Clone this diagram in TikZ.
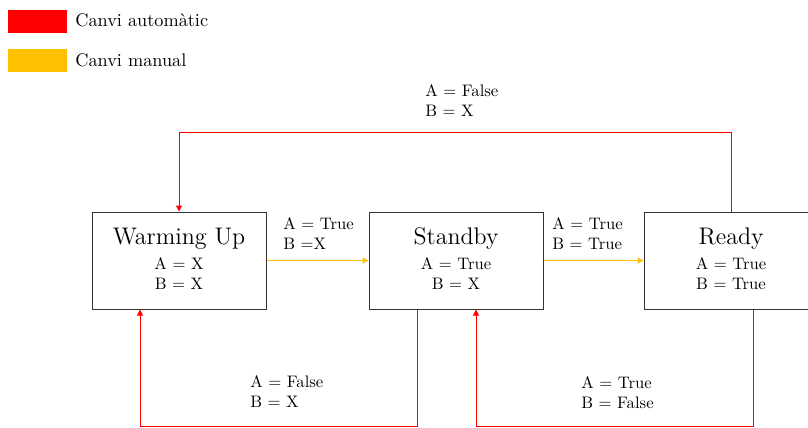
\documentclass[tikz,border=0pt]{standalone}
\usetikzlibrary{arrows.meta}
\definecolor{autored}{RGB}{255,0,0}
\definecolor{manyellow}{RGB}{255,192,0}
\begin{document}
\begin{tikzpicture}[x=0.6pt,y=-0.6pt,
  statebox/.style={draw=black!80,line width=0.6pt,minimum width=174*0.6pt,minimum height=97*0.6pt,inner sep=0pt},
  title/.style={font=\Large,inner sep=0pt},
  vals/.style={align=center,inner sep=0pt},
  lbl/.style={align=left,anchor=west,inner sep=0pt},
  legtxt/.style={anchor=west,inner sep=0pt,font=\fontsize{10.95}{13}\selectfont},
  auto/.style={draw=autored,line width=0.6pt,-{Triangle[length=3.6pt,width=3.6pt]}},
  manual/.style={draw=manyellow,line width=0.6pt,-{Triangle[length=3.6pt,width=3.6pt]}},
  legbox/.style={minimum width=59*0.6pt,minimum height=23*0.6pt,inner sep=0pt}]
\useasboundingbox (0,0) rectangle (808,427);
\clip (0,0) rectangle (808,427);
% legend
\node[legbox,fill=autored] (lgr) at (37.5,21.5) {};
\node[legbox,fill=manyellow] (lgy) at (37.5,60.5) {};
\node[legtxt] (lgrt) at (75,20.5) {Canvi automàtic};
\node[legtxt] (lgyt) at (75,60.5) {Canvi manual};
% states
\node[statebox] (wu) at (179,260.5) {};
\node[statebox] (sb) at (456,260.5) {};
\node[statebox] (rd) at (731,260.5) {};
\node[title] (wut) at (179,238.5) {Warming Up};
\node[title] (sbt) at (456,238.5) {Standby};
\node[title] (rdt) at (731,238.5) {Ready};
\node[vals] (wuv) at (179,273.5) {A = X\\B = X};
\node[vals] (sbv) at (456,273.5) {A = True\\B = X};
\node[vals] (rdv) at (731,273.5) {A = True\\B = True};
% helper coordinates
\coordinate (ytop) at (0,132);
\coordinate (ybot) at (0,426);
\coordinate (xa) at (417,0);
\coordinate (xb) at (140,0);
\coordinate (xc) at (753,0);
\coordinate (xd) at (476,0);
% manual transitions
\draw[manual] (wu.east) -- (sb.west);
\draw[manual] (sb.east) -- (rd.west);
% automatic transitions
\draw[auto] (rd.north) -- (rd.north |- ytop) -| (wu.north);
\draw[auto] (sb.south -| xa) -- (xa |- ybot) -- (xb |- ybot) -- (wu.south -| xb);
\draw[auto] (rd.south -| xc) -- (xc |- ybot) -- (xd |- ybot) -- (sb.south -| xd);
% labels
\node[lbl] (l1) at (283,233.5) {A = True\\B =X};
\node[lbl] (l2) at (552,234) {A = True\\B = True};
\node[lbl] (l3) at (425,101) {A = False\\B = X};
\node[lbl] (l4) at (250,391.5) {A = False\\B = X};
\node[lbl] (l5) at (581,393) {A = True\\B = False};
\end{tikzpicture}
\end{document}
